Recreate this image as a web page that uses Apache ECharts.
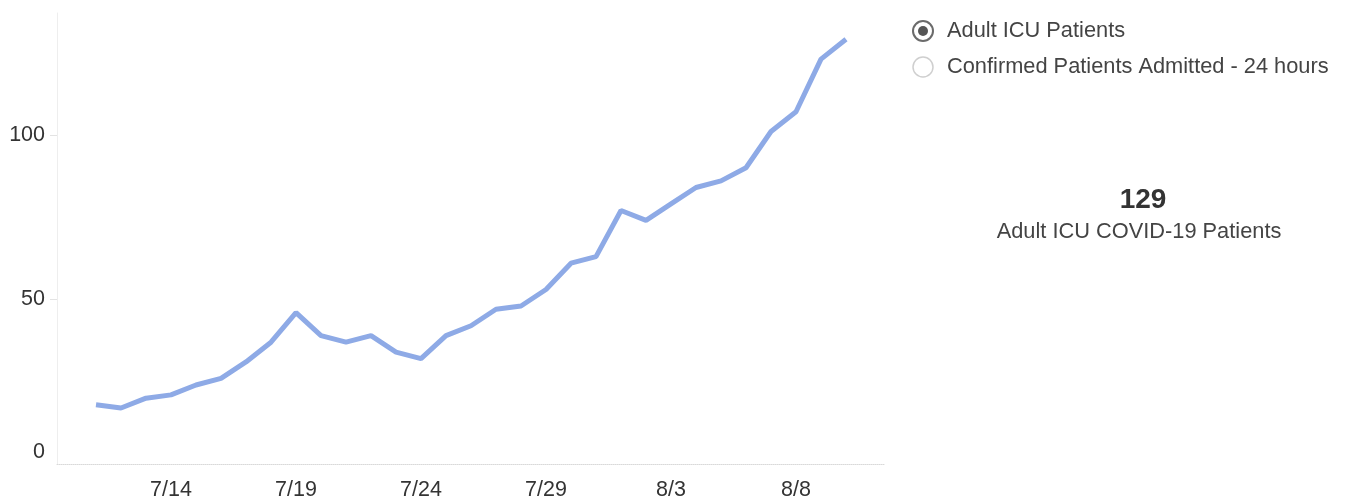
<!DOCTYPE html>
<html>
<head>
<meta charset="utf-8">
<script src="https://cdn.jsdelivr.net/npm/echarts@6/dist/echarts.min.js"></script>
<style>
html,body{margin:0;padding:0;background:#fff;}
#c{width:1346px;height:504px;}
</style>
</head>
<body>
<div id="c"></div>
<script>
const dates = ['7/11','7/12','7/13','7/14','7/15','7/16','7/17','7/18','7/19','7/20','7/21','7/22','7/23','7/24','7/25','7/26','7/27','7/28','7/29','7/30','7/31','8/1','8/2','8/3','8/4','8/5','8/6','8/7','8/8','8/9','8/10'];
const icuPatients = [18,17,20,21,24,26,31,37,46,39,37,39,34,32,39,42,47,48,53,61,63,77,74,79,84,86,90,101,107,123,129];
const xTickIdx = [3,8,13,18,23,28];
const yTicks = [0,50,100];
const legendItems = ['Adult ICU Patients','Confirmed Patients Admitted - 24 hours'];
const kpiValue = '129';
const kpiLabel = 'Adult ICU COVID-19 Patients';

const font = 'Liberation Sans, Arial, sans-serif';
const chart = echarts.init(document.getElementById('c'));
chart.setOption({
  animation:false,
  grid:{left:57,right:461,top:13,bottom:40},
  xAxis:{
    type:'value', min:-1.56, max:31.56,
    splitLine:{show:false},
    axisLine:{show:true,onZero:false,lineStyle:{color:'#d9d9d9',type:'dotted',width:1}},
    axisTick:{show:false},
    axisLabel:{customValues:xTickIdx, formatter:v=>dates[Math.round(v)]||'', color:'#333', fontFamily:font, fontSize:21.5, margin:15}
  },
  yAxis:{
    type:'value', min:0, max:137,
    splitLine:{show:false},
    axisLine:{show:true,onZero:false,lineStyle:{color:'#eeeeee',width:1}},
    axisTick:{show:true,customValues:[50,100],length:7,lineStyle:{color:'#e3e3e3'}},
    axisLabel:{customValues:yTicks, color:'#333', fontFamily:font, fontSize:21.5, margin:12,
      formatter:v=> v===0 ? '{z|0}' : String(v),
      rich:{z:{fontFamily:font,fontSize:21.5,color:'#333',padding:[0,0,24,0]}}}
  },
  series:[{
    type:'line', data:icuPatients.map((v,i)=>[i,v]),
    showSymbol:false, symbol:'none',
    lineStyle:{color:'#8eaae6',width:5}, itemStyle:{color:'#8eaae6'}
  }],
  graphic:[
    {type:'circle',shape:{cx:923,cy:31,r:10},style:{fill:'#fff',stroke:'#6b6b6b',lineWidth:2}},
    {type:'circle',shape:{cx:923,cy:31,r:5},style:{fill:'#555'}},
    {type:'text',x:947,y:31,style:{text:legendItems[0],fill:'#444',font:'21.8px '+font,verticalAlign:'middle'}},
    {type:'circle',shape:{cx:923,cy:67,r:10},style:{fill:'#fff',stroke:'#cfcfcf',lineWidth:1.5}},
    {type:'text',x:947,y:67,style:{text:legendItems[1],fill:'#444',font:'21.8px '+font,verticalAlign:'middle'}},
    {type:'text',x:1143,y:200,style:{text:kpiValue,fill:'#333',font:'bold 28px '+font,align:'center',verticalAlign:'middle'}},
    {type:'text',x:1139,y:232,style:{text:kpiLabel,fill:'#444',font:'21.8px '+font,align:'center',verticalAlign:'middle'}}
  ]
});
</script>
</body>
</html>
